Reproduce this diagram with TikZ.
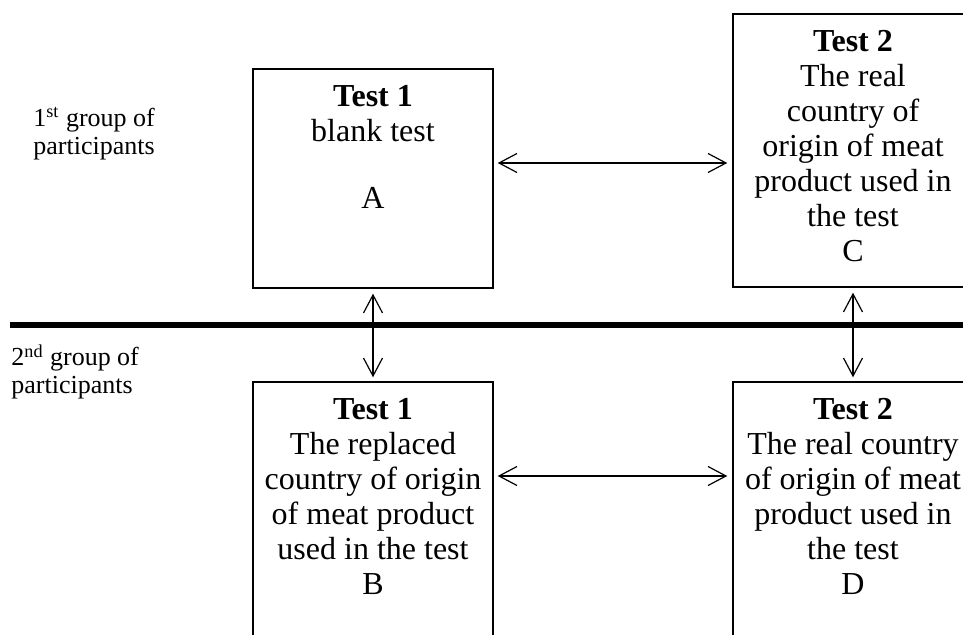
\documentclass[tikz,border=0pt]{standalone}
\usepackage{fontspec}
\setmainfont{Liberation Serif}
\usetikzlibrary{positioning}
\usetikzlibrary{arrows.meta}
\begin{document}
\begin{tikzpicture}[x=0.5pt, y=-0.5pt,
  testbox/.style={draw, line width=0.7pt, minimum width=120pt, inner sep=0pt},
  boxtext/.style={align=center, inner sep=0pt, font=\fontsize{16}{17.5}\selectfont},
  grouplabel/.style={align=left, anchor=north west, inner sep=0pt, font=\fontsize{13}{14}\selectfont},
  twoway/.style={{Straight Barb[length=9pt,width=9.5pt]}-{Straight Barb[length=9pt,width=9.5pt]}, line width=0.6pt}]
\clip (0,0) rectangle (963,635);
\node (A) [testbox, minimum height=109.5pt] at (373,178.5) {};
\node (C) [testbox, minimum height=136.5pt] at (853,150.5) {};
\node (B) [testbox, minimum height=136.5pt] at (373,518.5) {};
\node (D) [testbox, minimum height=136.5pt] at (853,518.5) {};
\node (textA) [boxtext, below=8.2pt of A.north] {\textbf{Test 1}\\blank test\\[16pt]A};
\node (textC) [boxtext, below=8.2pt of C.north] {\textbf{Test 2}\\The real\\country of\\origin of meat\\product used in\\the test\\C};
\node (textB) [boxtext, below=8.2pt of B.north] {\textbf{Test 1}\\The replaced\\country of origin\\of meat product\\used in the test\\B};
\node (textD) [boxtext, below=8.2pt of D.north] {\textbf{Test 2}\\The real country\\of origin of meat\\product used in\\the test\\D};
\node (group1) [grouplabel] at (33,107) {1\textsuperscript{st} group of\\participants};
\node (group2) [grouplabel] at (11,344) {2\textsuperscript{nd} group of\\participants};
\coordinate (divL) at (10,325);
\coordinate (divR) at (963,325);
\draw [line width=3pt] (divL) -- (divR);
\coordinate (rowtop) at (0,163);
\coordinate (rowbot) at (0,476);
\draw [twoway, shorten <=2pt, shorten >=2.5pt] (A.east |- rowtop) -- (C.west |- rowtop);
\draw [twoway, shorten <=2pt, shorten >=2.5pt] (B.east |- rowbot) -- (D.west |- rowbot);
\draw [twoway, shorten <=2.5pt, shorten >=2pt] (A.south) -- (B.north);
\draw [twoway, shorten <=2.5pt, shorten >=2pt] (C.south) -- (D.north);
\end{tikzpicture}
\end{document}
